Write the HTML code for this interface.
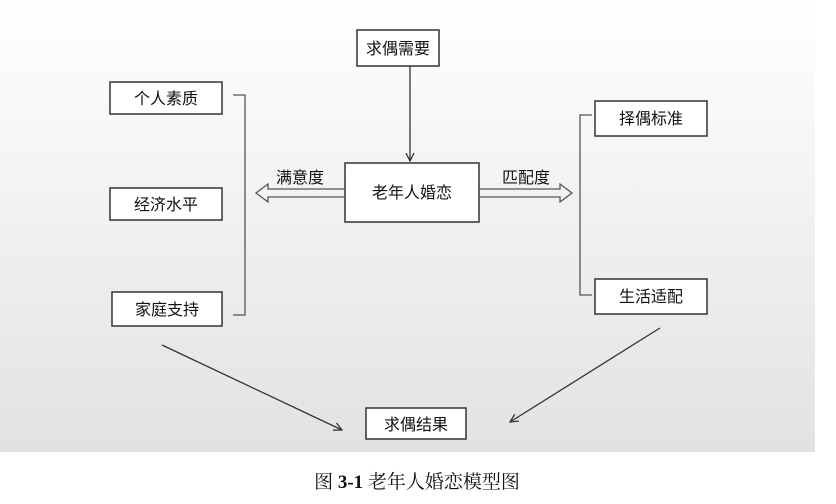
<!DOCTYPE html>
<html><head><meta charset="utf-8"><style>
body{margin:0;width:836px;height:499px;background:#fff;overflow:hidden}
svg text{font-family:"Liberation Sans","Noto Sans CJK SC",sans-serif;fill:#111}
</style></head><body>
<svg width="836" height="499" viewBox="0 0 836 499">
<defs>
<linearGradient id="g" x1="0" y1="0" x2="0" y2="1"><stop offset="0" stop-color="#ffffff"/><stop offset="1" stop-color="#e2e2e2"/></linearGradient>
<marker id="a" markerWidth="10" markerHeight="10" refX="9" refY="5" orient="auto" markerUnits="userSpaceOnUse"><path d="M1,1 L9,5 L1,9" fill="none" stroke="#333" stroke-width="1.3"/></marker>
</defs>
<rect x="0" y="0" width="815" height="452" fill="url(#g)"/>
<g fill="#fff" stroke="#333" stroke-width="1.5">
<rect x="357" y="30" width="82" height="36"/>
<rect x="110" y="82" width="112" height="32"/>
<rect x="110" y="188" width="112" height="32"/>
<rect x="112" y="292" width="110" height="34"/>
<rect x="345" y="163" width="134" height="59"/>
<rect x="595" y="101" width="112" height="35"/>
<rect x="595" y="279" width="112" height="35"/>
<rect x="366" y="408" width="100" height="31"/>
</g>
<g fill="none" stroke="#555" stroke-width="1.3">
<path d="M233,95 H245 V315 H233"/>
<path d="M592,115 H580 V295 H592"/>
<path d="M345,189 H268 V184 L256,193 L268,202 V197 H345"/>
<path d="M479,189 H560 V184 L572,193 L560,202 V197 H479" />
</g>
<g stroke="#333" stroke-width="1.3" fill="none">
<line x1="410" y1="66" x2="410" y2="161" marker-end="url(#a)"/>
<line x1="162" y1="345" x2="342" y2="430" marker-end="url(#a)"/>
<line x1="660" y1="328" x2="510" y2="422" marker-end="url(#a)"/>
</g>
<g font-size="16" text-anchor="middle">
<text x="398" y="54">求偶需要</text>
<text x="166" y="104">个人素质</text>
<text x="166" y="210">经济水平</text>
<text x="167" y="315">家庭支持</text>
<text x="412" y="198">老年人婚恋</text>
<text x="651" y="124">择偶标准</text>
<text x="651" y="302">生活适配</text>
<text x="416" y="430">求偶结果</text>
<text x="300" y="183">满意度</text>
<text x="526" y="183">匹配度</text>
</g>
<text x="417" y="488" font-size="19" text-anchor="middle" style='font-family:"Liberation Serif","Noto Serif CJK SC",serif'>图 <tspan font-weight="bold">3-1</tspan>  老年人婚恋模型图</text>
</svg>
</body></html>
